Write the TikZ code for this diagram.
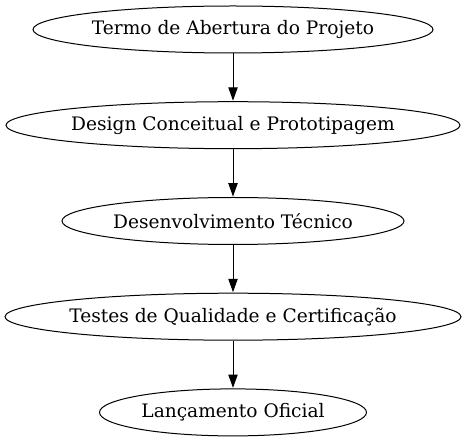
\documentclass[tikz,border=0pt]{standalone}
\usepackage{fontspec}
\setmainfont{DejaVu Serif}
\usetikzlibrary{shapes.geometric,arrows.meta}
\newcommand{\zw}[1]{\makebox[0pt]{#1}}
\begin{document}
\begin{tikzpicture}[x=1pt,y=1pt,
  stage/.style={draw=black, line width=1pt, ellipse, inner sep=0pt, minimum height=47pt,
    font=\fontsize{18.6}{22}\selectfont},
  flow/.style={draw=black, line width=1pt, -{Triangle[length=13.3pt,width=9.3pt]}, shorten >=0.5pt}]
\useasboundingbox (0,0) rectangle (466,-443);
\node[stage, minimum width=400pt] (a) at (233,-29.5) {\zw{Termo de Abertura do Projeto}};
\node[stage, minimum width=454pt] (b) at (233,-125.2) {\zw{Design Conceitual e Prototipagem}};
\node[stage, minimum width=342pt] (c) at (233,-221) {\zw{Desenvolvimento Técnico}};
\node[stage, minimum width=456pt] (d) at (233,-316.7) {\zw{Testes de Qualidade e Certificação}};
\node[stage, minimum width=267pt] (e) at (233,-412.4) {\zw{Lançamento Oficial}};
\draw[flow] (a) -- (b);
\draw[flow] (b) -- (c);
\draw[flow] (c) -- (d);
\draw[flow] (d) -- (e);
\end{tikzpicture}
\end{document}
